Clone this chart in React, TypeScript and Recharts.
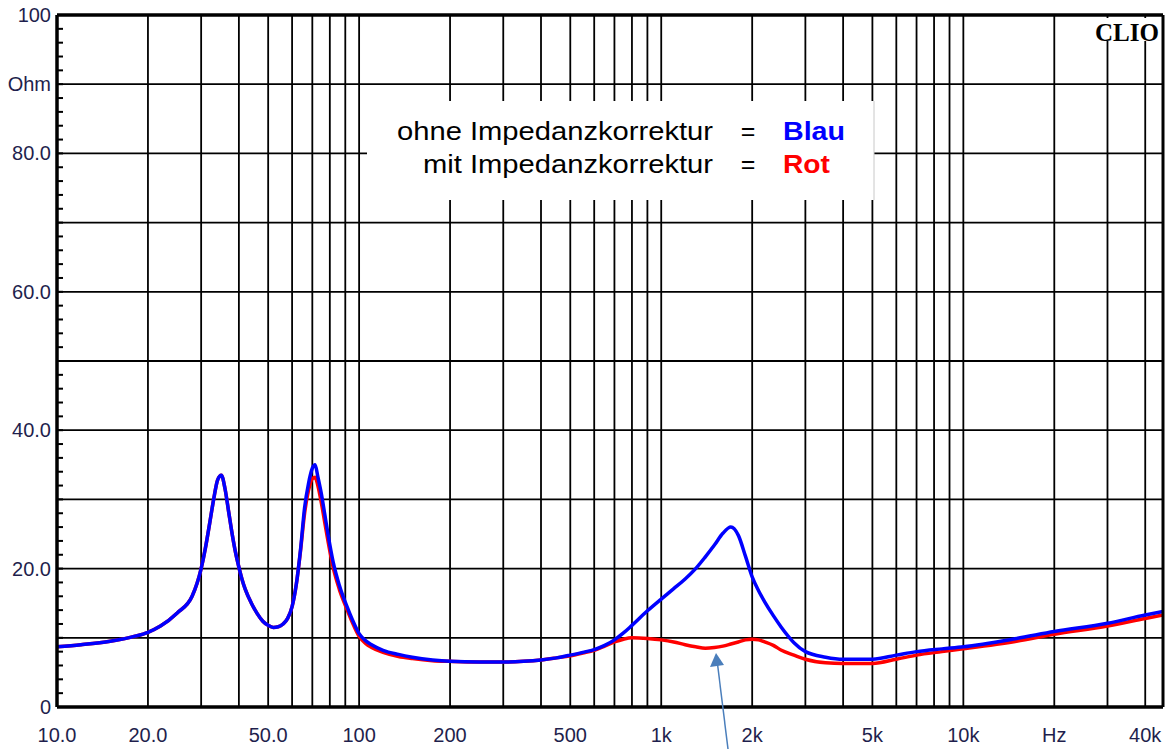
import React from 'react';
import { LineChart, Line, XAxis, YAxis, CartesianGrid, ReferenceLine } from 'recharts';

// Impedanzmessung (CLIO), Frequenz in Hz, Impedanz in Ohm
const freqs = [
  10, 12, 15, 18, 20, 22, 25, 28,
  30, 31, 32, 33, 34, 35, 36, 37, 38, 39,
  40, 41, 42, 44, 46, 48, 50, 52, 54, 56, 58,
  60, 62, 64, 66, 68, 70, 71.5, 73, 75, 77, 79,
  82, 86, 91, 95, 100, 105, 110, 120, 135, 150, 175,
  200, 250, 300, 350, 400, 450, 500, 550, 600, 650,
  700, 750, 800, 900, 1000, 1100, 1200, 1300, 1400, 1500,
  1600, 1700, 1800, 1900, 2000, 2100, 2200, 2350, 2500, 2750,
  3000, 3500, 4000, 5000, 6000, 7000, 8500, 10000, 15000, 20000,
  30000, 40000, 45800,
];
const ohneKorrektur = [
  8.7, 9.0, 9.5, 10.2, 10.8, 11.7, 13.6, 16.0,
  20.0, 23.0, 26.5, 30.0, 32.8, 33.5, 31.5, 28.2, 25.0, 22.3,
  20.2, 18.4, 17.0, 15.0, 13.5, 12.4, 11.8, 11.5, 11.6, 12.0, 12.8,
  14.5, 17.8, 22.8, 28.8, 32.3, 34.5, 35.0, 33.3, 30.8, 27.8, 24.8,
  21.0, 17.6, 14.6, 12.6, 10.6, 9.6, 9.0, 8.2, 7.6, 7.2, 6.8,
  6.6, 6.5, 6.5, 6.6, 6.8, 7.1, 7.5, 7.9, 8.3, 8.9,
  9.7, 10.7, 11.8, 13.9, 15.6, 17.1, 18.5, 20.0, 21.7, 23.4,
  25.1, 26.0, 24.8, 21.8, 18.8, 16.8, 15.2, 13.2, 11.5, 9.3,
  8.0, 7.2, 6.9, 6.9, 7.5, 8.0, 8.4, 8.7, 9.9, 10.9,
  12.1, 13.3, 13.8,
];
const mitKorrektur = [
  8.7, 9.0, 9.5, 10.2, 10.8, 11.7, 13.6, 16.0,
  20.0, 23.0, 26.5, 30.0, 32.8, 33.5, 31.5, 28.2, 25.0, 22.3,
  20.2, 18.4, 17.0, 15.0, 13.5, 12.4, 11.8, 11.5, 11.6, 12.0, 12.8,
  14.5, 17.8, 22.6, 28.0, 31.3, 33.0, 33.2, 32.0, 29.5, 26.6, 23.8,
  20.2, 17.0, 14.2, 12.2, 10.2, 9.2, 8.6, 7.9, 7.3, 7.0, 6.7,
  6.6, 6.5, 6.5, 6.6, 6.8, 7.1, 7.4, 7.8, 8.2, 8.8,
  9.4, 9.8, 10.0, 9.9, 9.7, 9.4, 9.0, 8.7, 8.5, 8.6,
  8.8, 9.1, 9.4, 9.7, 9.8, 9.7, 9.4, 8.9, 8.2, 7.5,
  6.9, 6.4, 6.3, 6.3, 6.9, 7.5, 8.0, 8.4, 9.5, 10.5,
  11.7, 12.8, 13.3,
];

const freqGrid = [
  10, 20, 30, 40, 50, 60, 70, 80, 90,
  100, 200, 300, 400, 500, 600, 700, 800, 900,
  1000, 2000, 3000, 4000, 5000, 6000, 7000, 8000, 9000,
  10000, 20000, 30000, 40000,
];
const freqLabels: Record<number, string> = {
  10: '10.0', 20: '20.0', 50: '50.0', 100: '100', 200: '200', 500: '500',
  1000: '1k', 2000: '2k', 5000: '5k', 10000: '10k', 20000: 'Hz', 40000: '40k',
};
const ohmTicks = Array.from({ length: 51 }, (_, i) => i * 2);
const ohmGrid = [0, 10, 20, 30, 40, 50, 60, 70, 80, 90, 100];
const ohmLabels: Record<number, string> = {
  0: '0', 20: '20.0', 40: '40.0', 60: '60.0', 80: '80.0', 90: 'Ohm', 100: '100',
};

const data = freqs.map((f, i) => ({ f, blau: ohneKorrektur[i], rot: mitKorrektur[i] }));

const FONT = '"Liberation Sans", Arial, sans-serif';
const LABEL_COLOR = '#1f1f4d';

const LeftTick = ({ x, y, payload }: any) => {
  const label = ohmLabels[payload.value];
  return (
    <g>
      <line x1={x + 6} x2={x + 12} y1={y} y2={y} stroke="#000" strokeWidth={2} />
      {label && (
        <text x={x} y={y + 7} textAnchor="end" fontSize={20} fontFamily={FONT} fill={LABEL_COLOR}>
          {label}
        </text>
      )}
    </g>
  );
};

const RightTick = ({ x, y }: any) => (
  <line x1={x - 6} x2={x} y1={y} y2={y} stroke="#000" strokeWidth={2} />
);

const BottomTick = ({ x, y, payload }: any) => {
  const label = freqLabels[payload.value];
  if (!label) return null;
  return (
    <text x={x} y={y + 35} textAnchor="middle" fontSize={20} fontFamily={FONT} fill={LABEL_COLOR}>
      {label}
    </text>
  );
};

export default function App() {
  return (
    <div style={{ position: 'absolute', left: 0, top: 0, width: 1169, height: 749, background: '#fff' }}>
      <LineChart width={1169} height={749} data={data} margin={{ top: 15, right: 0, bottom: 0, left: 0 }}>
        <CartesianGrid stroke="#000" strokeWidth={1.8} horizontalValues={ohmGrid} verticalValues={freqGrid} />
        <XAxis
          dataKey="f"
          type="number"
          scale="log"
          domain={[10, 45800]}
          allowDataOverflow
          ticks={freqGrid}
          interval={0}
          height={42}
          tickSize={0}
          tickMargin={0}
          tickLine={false}
          tick={<BottomTick />}
          axisLine={{ stroke: '#000', strokeWidth: 3.5 }}
        />
        <YAxis
          domain={[0, 100]}
          ticks={ohmTicks}
          interval={0}
          width={57}
          tickSize={0}
          tickMargin={6}
          tickLine={false}
          tick={<LeftTick />}
          axisLine={{ stroke: '#000', strokeWidth: 3.5 }}
        />
        <YAxis
          yAxisId="right"
          orientation="right"
          domain={[0, 100]}
          ticks={ohmTicks}
          interval={0}
          width={6}
          tickSize={0}
          tickMargin={0}
          tickLine={false}
          tick={<RightTick />}
          axisLine={{ stroke: '#000', strokeWidth: 3 }}
        />
        <ReferenceLine y={100} stroke="#000" strokeWidth={3.5} />
        <Line type="monotone" dataKey="rot" stroke="#ff0000" strokeWidth={3.5} dot={false} isAnimationActive={false} />
        <Line type="monotone" dataKey="blau" stroke="#0000ff" strokeWidth={3.5} dot={false} isAnimationActive={false} />
      </LineChart>
      <svg width={1169} height={749} style={{ position: 'absolute', left: 0, top: 0, pointerEvents: 'none' }}>
        <rect x={367} y={101} width={507} height={99} fill="#fff" />
        <line x1={874} x2={874} y1={101} y2={200} stroke="#c8c8c8" strokeWidth={1} />
        <g fontFamily={FONT} fontSize={25}>
          <text x={397} y={140} textLength={316} lengthAdjust="spacingAndGlyphs" fill="#000">ohne Impedanzkorrektur</text>
          <text x={423} y={173} textLength={290} lengthAdjust="spacingAndGlyphs" fill="#000">mit Impedanzkorrektur</text>
          <text x={748} y={140} textAnchor="middle" fill="#000">=</text>
          <text x={748} y={173} textAnchor="middle" fill="#000">=</text>
          <text x={783} y={140} textLength={62} lengthAdjust="spacingAndGlyphs" fontWeight="bold" fill="#0000ff">Blau</text>
          <text x={783} y={173} textLength={47} lengthAdjust="spacingAndGlyphs" fontWeight="bold" fill="#ff0000">Rot</text>
        </g>
        <rect x={1093} y={18} width={66} height={23} fill="#fff" />
        <text x={1095} y={41} fontFamily='"Liberation Serif", "Times New Roman", serif' fontWeight="bold" fontSize={25} textLength={64} lengthAdjust="spacingAndGlyphs" fill="#000">CLIO</text>
        <line x1={728} y1={749} x2={717.5} y2={664} stroke="#4a7ebb" strokeWidth={1.5} />
        <polygon points="716,653 710,667 724,665" fill="#4a7ebb" />
      </svg>
    </div>
  );
}
